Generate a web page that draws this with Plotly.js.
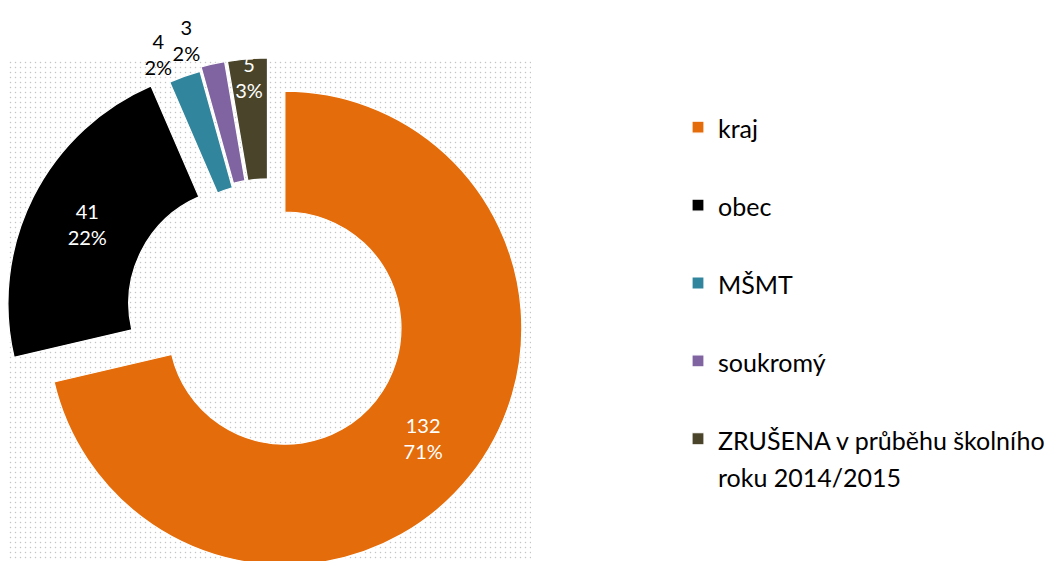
<!DOCTYPE html>
<html>
<head>
<meta charset="utf-8">
<script src="https://cdn.plot.ly/plotly-3.0.1.min.js"></script>
<style>
  html, body { margin:0; padding:0; width:1054px; height:561px; overflow:hidden; background:#fff; }
  #wrap { position:relative; width:1054px; height:600px; }
  #dots { position:absolute; left:8px; top:60px; width:523px; height:540px;
          background-image: radial-gradient(circle, #c4c4c4 0.75px, rgba(255,255,255,0) 1.05px);
          background-size:5px 5px; background-position:0 0; }
  #chart { position:absolute; left:0; top:0; width:1054px; height:600px; }
</style>
</head>
<body>
<div id="wrap">
  <div id="dots"></div>
  <div id="chart"></div>
</div>
<script>
// Data
const categories = ['kraj', 'obec', 'MŠMT', 'soukromý', ['ZRUŠENA v průběhu školního', 'roku 2014/2015']];
const counts = [132, 41, 4, 3, 5];
const colors = ['#E46C0A', '#000000', '#31859C', '#8064A2', '#4A452A'];
const pulls = [0.084, 0.115, 0.072, 0.089, 0.088];

const FONT = 'Lato, "Open Sans", sans-serif';
const W = 1054, H = 600;
const LEG_TEXT = 25;   // visible legend text size
const LEG_LINE = 28.8; // legend line-box size (controls entry spacing)

// legend labels: each entry spans two legend lines so the entries are spaced like the reference
const span = s => '<span style="font-size:' + LEG_TEXT + 'px">' + s + '</span>';
const legendLabels = categories.map(c => Array.isArray(c) ? c.map(span).join('<br>') : span(c) + '<br>\u00a0');

const TEMPLATE = '%{value}<br>%{percent:.0%}';
const common = {
  type: 'pie',
  labels: legendLabels,
  values: counts,
  sort: false,
  direction: 'clockwise',
  rotation: 0,
  hole: 0.49,
  pull: pulls,
  texttemplate: TEMPLATE,
  insidetextorientation: 'horizontal',
  hoverinfo: 'none',
  domain: { x: [5 / W, 533.5 / W], y: [1 - 580 / H, 1 - 51.5 / H] }
};

// main ring
const ring = Object.assign({}, common, {
  marker: { colors: colors, line: { color: '#ffffff', width: 1.2 } },
  textposition: ['inside', 'inside', 'outside', 'none', 'inside'],
  insidetextfont: { family: FONT, size: 20, color: '#ffffff' },
  outsidetextfont: { family: FONT, size: 20, color: '#000000' }
});

// transparent overlay carrying the "soukromý" outside label (kept apart so it is not pushed away)
const labelOverlay = Object.assign({}, common, {
  marker: { colors: colors.map(() => 'rgba(0,0,0,0)'), line: { width: 0 } },
  textposition: ['none', 'none', 'none', 'outside', 'none'],
  outsidetextfont: { family: FONT, size: 20, color: '#000000' },
  showlegend: false
});

const layout = {
  width: W, height: H,
  margin: { l: 0, r: 0, t: 0, b: 0 },
  paper_bgcolor: 'rgba(0,0,0,0)',
  plot_bgcolor: 'rgba(0,0,0,0)',
  showlegend: true,
  uniformtext: { mode: 'show', minsize: 20 },
  legend: {
    x: 678 / W, y: 1 - 102 / H, xanchor: 'left', yanchor: 'top',
    font: { family: FONT, size: LEG_LINE, color: '#000000' },
    valign: 'top', bgcolor: 'rgba(0,0,0,0)', itemwidth: 30,
    traceorder: 'normal'
  },
  font: { family: FONT }
};

Plotly.newPlot('chart', [ring, labelOverlay], layout, { staticPlot: true, displayModeBar: false });
</script>
</body>
</html>
